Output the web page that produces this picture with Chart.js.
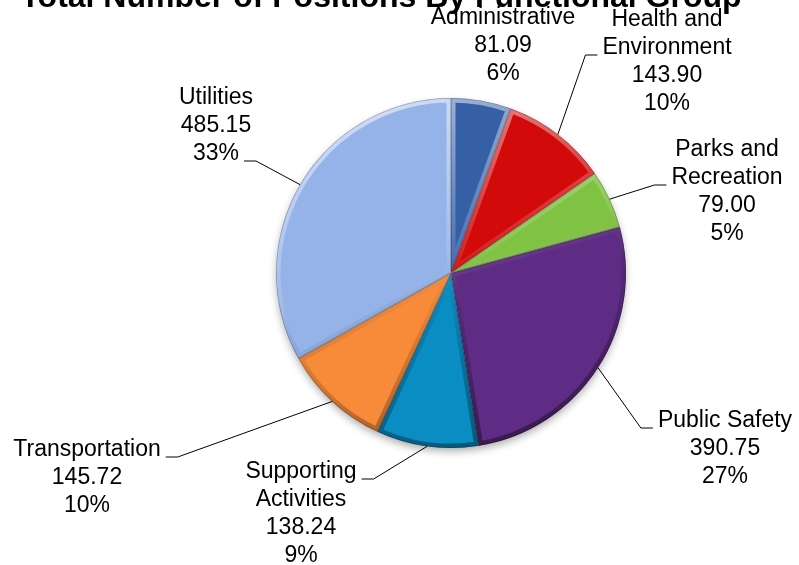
<!DOCTYPE html>
<html>
<head>
<meta charset="utf-8">
<script src="https://cdn.jsdelivr.net/npm/chart.js@4.4.1/dist/chart.umd.min.js"></script>
<style>
    body { margin: 0; background: #fff; }
    #wrap { width: 799px; height: 565px; }
</style>
</head>
<body>
<div id="wrap"><canvas id="pie" width="799" height="565"></canvas></div>
<script>
// data, clockwise from 12 o'clock
const categories = ["Administrative", "Health and\nEnvironment", "Parks and\nRecreation", "Public Safety",
    "Supporting\nActivities", "Transportation", "Utilities"];
const values = [81.09, 143.90, 79.00, 390.75, 138.24, 145.72, 485.15];
const colors = ["#3560A6", "#D20A0A", "#80C242", "#5E2C84", "#0A8DC3", "#F88B3A", "#95B3E8"];
const title = "Total Number of Positions By Functional Group";

// where each label block sits (centre x, first line y), which line the leader hooks on
const labelLayout = [
    { x: 503, y: 18, lead: null },
    { x: 667, y: 20, lead: 1, side: "left" },
    { x: 727, y: 150, lead: 1, side: "left" },
    { x: 725, y: 421, lead: 0, side: "left" },
    { x: 301, y: 472, lead: 0, side: "right" },
    { x: 87, y: 450, lead: 0, side: "right" },
    { x: 216, y: 98, lead: 2, side: "right" }
];
const lineH = 28;
const font = '"Liberation Sans", Arial, sans-serif';

function arcPath(ctx, a) {
    ctx.beginPath();
    ctx.moveTo(a.x, a.y);
    ctx.arc(a.x, a.y, a.outerRadius, a.startAngle, a.endAngle);
    ctx.closePath();
}

// soft shadow under the pie + bevel on every slice
const bevel = {
    id: "bevel",
    beforeDatasetsDraw(chart) {
        const a = chart.getDatasetMeta(0).data[0];
        const ctx = chart.ctx;
        ctx.save();
        ctx.beginPath();
        ctx.arc(a.x, a.y, a.outerRadius - 1, 0, Math.PI * 2);
        ctx.fillStyle = "#fff";
        ctx.shadowColor = "rgba(0,0,0,0.35)";
        ctx.shadowBlur = 9;
        ctx.shadowOffsetY = 4;
        ctx.fill();
        ctx.restore();
    },
    afterDatasetsDraw(chart) {
        const ctx = chart.ctx;
        chart.getDatasetMeta(0).data.forEach(a => {
            const r = a.outerRadius;
            const g = ctx.createLinearGradient(a.x - r * 0.3, a.y - r, a.x + r * 0.3, a.y + r);
            g.addColorStop(0, "rgba(255,255,255,0.55)");
            g.addColorStop(0.45, "rgba(255,255,255,0.12)");
            g.addColorStop(0.6, "rgba(0,0,0,0.08)");
            g.addColorStop(1, "rgba(0,0,0,0.4)");
            ctx.save();
            arcPath(ctx, a);
            ctx.clip();
            arcPath(ctx, a);
            ctx.lineWidth = 9;
            ctx.strokeStyle = g;
            ctx.stroke();
            arcPath(ctx, a);
            ctx.lineWidth = 1.5;
            ctx.strokeStyle = "rgba(0,0,0,0.25)";
            ctx.stroke();
            ctx.restore();
        });
    }
};

const sliceLabels = {
    id: "sliceLabels",
    afterDraw(chart) {
        const ctx = chart.ctx;
        const total = values.reduce((s, v) => s + v, 0);
        ctx.save();
        ctx.fillStyle = "#000";
        ctx.strokeStyle = "#000";
        ctx.lineWidth = 1;
        ctx.textAlign = "center";
        ctx.textBaseline = "middle";
        ctx.font = "23px " + font;
        chart.getDatasetMeta(0).data.forEach((a, i) => {
            const lay = labelLayout[i];
            const lines = categories[i].split("\n").concat([values[i].toFixed(2), Math.round(values[i] / total * 100) + "%"]);
            lines.forEach((t, k) => ctx.fillText(t, lay.x, lay.y + k * lineH));
            if (lay.lead == null) return;
            const mid = (a.startAngle + a.endAngle) / 2;
            const ax = a.x + Math.cos(mid) * a.outerRadius;
            const ay = a.y + Math.sin(mid) * a.outerRadius;
            const w = ctx.measureText(lines[lay.lead]).width;
            const dir = lay.side == "left" ? -1 : 1;
            const ly = lay.y + lay.lead * lineH + 7;
            const x0 = lay.x + dir * (w / 2 + 5);
            const x1 = x0 + dir * 12;
            ctx.beginPath();
            ctx.moveTo(x0, ly);
            ctx.lineTo(x1, ly);
            ctx.lineTo(ax, ay);
            ctx.stroke();
        });
        // title sits mostly above the top edge, as in the original
        ctx.font = "bold 32px " + font;
        ctx.textBaseline = "alphabetic";
        ctx.fillText(title, 381, 7);
        ctx.restore();
    }
};

new Chart(document.getElementById("pie").getContext("2d"), {
    type: "pie",
    data: {
        labels: categories,
        datasets: [{
            data: values,
            backgroundColor: colors,
            borderWidth: 0,
            hoverOffset: 0
        }]
    },
    options: {
        responsive: false,
        animation: false,
        layout: { padding: { left: 200, right: 97, top: 98, bottom: 117 } },
        plugins: {
            legend: { display: false },
            tooltip: { enabled: false },
            title: { display: false }
        }
    },
    plugins: [bevel, sliceLabels]
});
</script>
</body>
</html>
